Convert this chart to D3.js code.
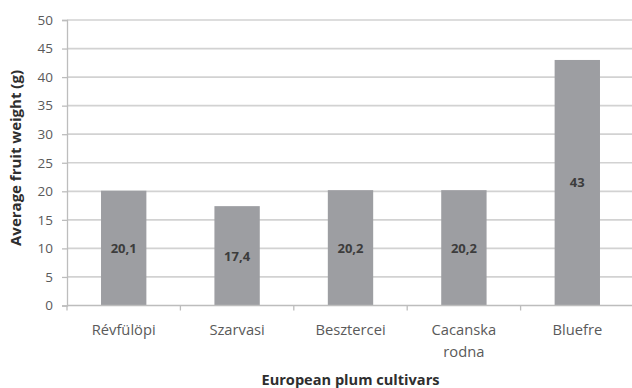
<!DOCTYPE html>
<html>
<head>
<meta charset="utf-8">
<script src="https://cdn.jsdelivr.net/npm/d3@7"></script>
<style>
  html, body { margin: 0; padding: 0; background: #fff; }
  svg { display: block; font-family: "Open Sans", "DejaVu Sans", sans-serif; }
</style>
</head>
<body>
<svg id="chart" width="632" height="388"></svg>
<script>
// Average fruit weight of European plum cultivars
const cultivars = ["Révfülöpi", "Szarvasi", "Besztercei", "Cacanska rodna", "Bluefre"];
const weights = [20.1, 17.4, 20.2, 20.2, 43];
const valueLabels = ["20,1", "17,4", "20,2", "20,2", "43"];
const yTicks = [0, 5, 10, 15, 20, 25, 30, 35, 40, 45, 50];

const svg = d3.select("#chart");
const margin = { top: 20, right: -2, bottom: 82.5, left: 67 };
const W = 632, H = 388;
const innerW = W - margin.left - margin.right;
const innerH = H - margin.top - margin.bottom;

// shrink/grow a text element's font so that it spans the given width
function fitWidth(sel, width) {
  const node = sel.node();
  const fs = parseFloat(sel.style("font-size"));
  const len = node.getComputedTextLength();
  sel.style("font-size", (fs * width / len).toFixed(2) + "px");
}

const g = svg.append("g").attr("transform", `translate(${margin.left},${margin.top})`);

const x = d3.scaleBand().domain(cultivars).range([0, innerW]).paddingInner(0.6).paddingOuter(0.3);
const xOuter = d3.scaleBand().domain(cultivars).range([0, innerW]);
const y = d3.scaleLinear().domain([0, 50]).range([innerH, 0]);

// horizontal gridlines
g.append("g").selectAll("line").data(yTicks.filter(d => d > 0)).join("line")
  .attr("x1", 0).attr("x2", innerW)
  .attr("y1", d => y(d)).attr("y2", d => y(d))
  .attr("stroke", "#d2d2d2").attr("stroke-width", 1.7);

// y axis
const yAxis = g.append("g").call(d3.axisLeft(y).tickValues(yTicks).tickSize(5).tickPadding(9));
yAxis.select(".domain").attr("stroke", "#bdbdbd").attr("stroke-width", 1.3);
yAxis.selectAll(".tick line").attr("stroke", "#bdbdbd").attr("stroke-width", 1.3);
yAxis.selectAll(".tick text").attr("fill", "#5a5a5a").style("font-size", "13.5px")
  .style("font-family", "'Open Sans', sans-serif");

// bars
g.append("g").selectAll("rect").data(cultivars).join("rect")
  .attr("x", d => x(d))
  .attr("y", (d, i) => y(weights[i]))
  .attr("width", x.bandwidth())
  .attr("height", (d, i) => y(0) - y(weights[i]))
  .attr("fill", "#9d9ea2");

// x axis with ticks at category boundaries
const xa = g.append("g").attr("transform", `translate(0,${innerH})`);
xa.append("line").attr("x1", 0).attr("x2", innerW).attr("y1", 0).attr("y2", 0)
  .attr("stroke", "#bdbdbd").attr("stroke-width", 1.3);
xa.selectAll("line.tk").data(cultivars).join("line").attr("class", "tk")
  .attr("x1", d => xOuter(d)).attr("x2", d => xOuter(d))
  .attr("y1", 0).attr("y2", 5)
  .attr("stroke", "#bdbdbd").attr("stroke-width", 1.3);

// category labels (wrapped)
const catLines = { "Cacanska rodna": ["Cacanska", "rodna"] };
const probe = xa.append("text").style("font-size", "12px").text(cultivars[0]);
fitWidth(probe, 64);
const catSize = probe.style("font-size");
probe.remove();

xa.selectAll("text.cat").data(cultivars).join("text").attr("class", "cat")
  .attr("x", d => x(d) + x.bandwidth() / 2)
  .attr("y", 29)
  .attr("text-anchor", "middle")
  .attr("fill", "#5a5a5a")
  .style("font-size", catSize)
  .each(function (d) {
    const lines = catLines[d] || [d];
    d3.select(this).selectAll("tspan").data(lines).join("tspan")
      .attr("x", x(d) + x.bandwidth() / 2)
      .attr("dy", (l, i) => i === 0 ? 0 : 22)
      .text(l => l);
  });

// value labels centred in bars
g.append("g").selectAll("text").data(cultivars).join("text")
  .attr("x", d => x(d) + x.bandwidth() / 2)
  .attr("y", (d, i) => (y(0) + y(weights[i])) / 2)
  .attr("dy", "0.36em")
  .attr("text-anchor", "middle")
  .attr("fill", "#3c3c3c")
  .style("font-size", "13px")
  .style("font-weight", "bold")
  .text((d, i) => valueLabels[i]);

// axis titles
const xTitle = svg.append("text")
  .attr("x", margin.left + innerW / 2).attr("y", 385)
  .attr("text-anchor", "middle")
  .attr("fill", "#2e2e2e")
  .style("font-size", "12px").style("font-weight", "bold")
  .text("European plum cultivars");
fitWidth(xTitle, 178);

const yTitle = svg.append("text")
  .attr("transform", "translate(16,158) rotate(-90)")
  .attr("dy", "0.35em")
  .attr("text-anchor", "middle")
  .attr("fill", "#2e2e2e")
  .style("font-size", "12px").style("font-weight", "bold")
  .text("Average fruit weight (g)");
fitWidth(yTitle, 176);
</script>
</body>
</html>
